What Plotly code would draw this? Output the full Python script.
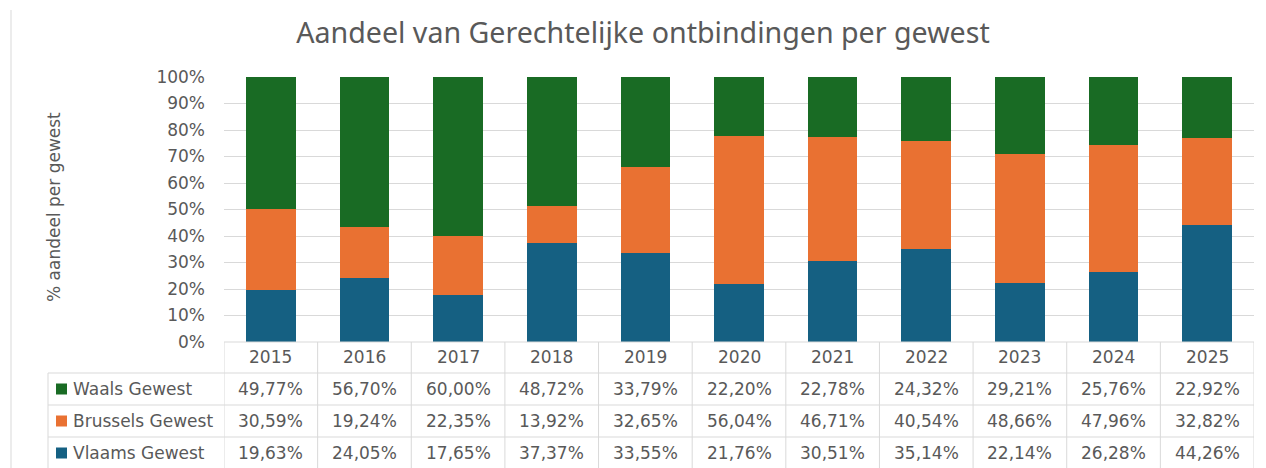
"""Aandeel van Gerechtelijke ontbindingen per gewest - 100% gestapelde staven met gegevenstabel."""

import plotly.graph_objects as go

years = ["2015", "2016", "2017", "2018", "2019", "2020", "2021", "2022", "2023", "2024", "2025"]
waals = [49.77, 56.70, 60.00, 48.72, 33.79, 22.20, 22.78, 24.32, 29.21, 25.76, 22.92]
brussels = [30.59, 19.24, 22.35, 13.92, 32.65, 56.04, 46.71, 40.54, 48.66, 47.96, 32.82]
vlaams = [19.63, 24.05, 17.65, 37.37, 33.55, 21.76, 30.51, 35.14, 22.14, 26.28, 44.26]

# bottom to top stacking order
series = [
    ("Vlaams Gewest", vlaams, "#156082"),
    ("Brussels Gewest", brussels, "#E97132"),
    ("Waals Gewest", waals, "#196B24"),
]

# the page body has an 8px margin, so work in page pixels and shift
OFF = 8
W, H = 1266 - OFF, 468 - OFF
PLOT_L, PLOT_R, PLOT_T, PLOT_B = 224, 1254, 77, 342  # page pixels
L, R = PLOT_L - OFF, W - (PLOT_R - OFF)
T, B = PLOT_T - OFF, H - (PLOT_B - OFF)
PW, PH = PLOT_R - PLOT_L, PLOT_B - PLOT_T

TEXT = "#595959"
LINE = "#d9d9d9"
FONT = "DejaVu Sans"


def px_x(px):
    return (px - PLOT_L) / PW


def px_y(py):
    return (PLOT_B - py) / PH


def pct(v):
    return f"{v:.2f}".replace(".", ",") + "%"


def label(x, y, text, xref="paper", xanchor="center", size=17, angle=0):
    return dict(x=x, y=y, xref=xref, yref="paper", text=text, showarrow=False,
                xanchor=xanchor, yanchor="middle", textangle=angle,
                font=dict(size=size, color=TEXT, family=FONT))


fig = go.Figure()

for name, values, color in series:
    fig.add_trace(
        go.Bar(
            x=list(range(len(years))),
            y=values,
            name=name,
            width=0.53,
            marker=dict(color=color, line=dict(width=0)),
        )
    )

shapes = []
annotations = []

# table grid
row_lines = [342, 373, 405, 437]
for i, py in enumerate(row_lines):
    x0 = 0 if i == 0 else px_x(48)
    shapes.append(dict(type="line", xref="paper", yref="paper", x0=x0, x1=1,
                       y0=px_y(py), y1=px_y(py), line=dict(color=LINE, width=1)))
shapes.append(dict(type="line", xref="paper", yref="paper", x0=px_x(48), x1=px_x(48),
                   y0=px_y(373), y1=px_y(470), line=dict(color=LINE, width=1)))
for i in range(len(years) + 1):
    shapes.append(dict(type="line", xref="x", yref="paper", x0=i - 0.5, x1=i - 0.5,
                       y0=px_y(342), y1=px_y(470), line=dict(color=LINE, width=1)))
# chart border on the left
shapes.append(dict(type="line", xref="paper", yref="paper", x0=px_x(11), x1=px_x(11),
                   y0=px_y(10), y1=px_y(470), line=dict(color=LINE, width=1)))

# header row with years
for i, yr in enumerate(years):
    annotations.append(label(i, px_y(357), yr, xref="x"))

# data rows (top row = Waals)
row_centers = [389, 421, 453]
for (name, values, color), cy in zip(reversed(series), row_centers):
    shapes.append(dict(type="rect", xref="paper", yref="paper", x0=px_x(56), x1=px_x(67),
                       y0=px_y(cy + 5.5), y1=px_y(cy - 5.5), fillcolor=color, line=dict(width=0)))
    annotations.append(label(px_x(71), px_y(cy), name, xanchor="left"))
    for i, v in enumerate(values):
        annotations.append(label(i, px_y(cy), pct(v), xref="x"))

# y axis title
annotations.append(label(px_x(54), px_y(207), "% aandeel per gewest", angle=-90))

fig.update_layout(
    width=W,
    height=H,
    margin=dict(l=L, r=R, t=T, b=B),
    barmode="stack",
    barnorm="percent",
    showlegend=False,
    paper_bgcolor="white",
    plot_bgcolor="white",
    title=dict(text="Aandeel van Gerechtelijke ontbindingen per gewest",
               x=(643 - OFF) / W, xanchor="center",
               y=1 - (33 - OFF) / H, yanchor="middle",
               font=dict(size=28.6, color=TEXT, family="Noto Sans")),
    xaxis=dict(range=[-0.5, len(years) - 0.5], showticklabels=False, showgrid=False,
               zeroline=False, showline=False, ticks=""),
    yaxis=dict(range=[0, 100], dtick=10, ticksuffix="%", showgrid=True, gridcolor=LINE,
               zeroline=False, showline=False, ticks="", ticklabelstandoff=18,
               tickfont=dict(size=17, color=TEXT, family=FONT)),
    shapes=shapes,
    annotations=annotations,
)

fig.write_html("out.html")
